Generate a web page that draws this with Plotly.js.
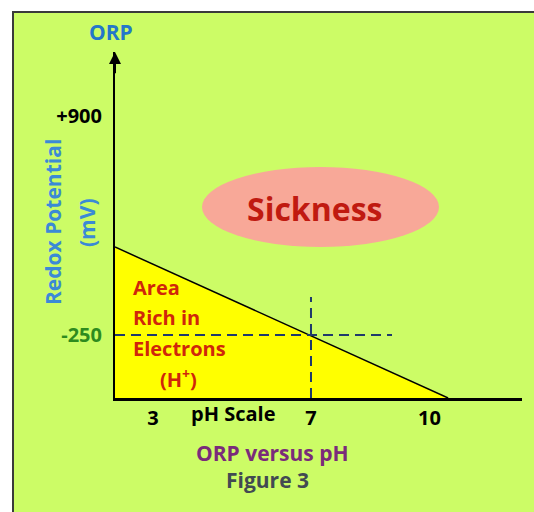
<!DOCTYPE html>
<html>
<head>
<meta charset="utf-8">
<script src="https://cdn.plot.ly/plotly-3.0.1.min.js"></script>
<style>html,body{margin:0;padding:0;background:#fff;}#chart{width:534px;height:512px;}</style>
</head>
<body>
<div id="chart"></div>
<script>
// ---- data (schematic values) ----
const phTicks = [3, 7, 10];
const phTickLabels = ['3', '7', '10'];
const orpTicks = [900, -250];
const orpTickLabels = ['+900', '<span style="color:#2e8b1e">-250</span>'];
const areaPH = [2.04, 2.04, 10.47];      // triangle: "area rich in electrons"
const areaORP = [212, -581, -581];
const slopePH = [2.04, 10.47];           // boundary line
const slopeORP = [212, -581];
const hDashPH = [2.04, 9.05];            // reference ORP -250 guide
const hDashORP = [-250, -250];
const vDashPH = [7, 7];                  // neutral pH 7 guide
const vDashORP = [-581, -50];
const xRange = [2.04, 12.34];
const yRange = [-581, 1236];

// ---- layout helpers ----
const ML = 115, MR = 12, MT = 52, MB = 114, W = 534, H = 512;
const PW = W - ML - MR, PH = H - MT - MB;
const px = x => (x - ML) / PW;
const py = y => (H - MB - y) / PH;
const FONT = '"Open Sans", Lato, sans-serif';

const traces = [
  {x: areaPH, y: areaORP, mode: 'lines', fill: 'toself', fillcolor: '#ffff00',
   line: {width: 0, color: 'rgba(0,0,0,0)'}, hoverinfo: 'skip', showlegend: false},
  {x: slopePH, y: slopeORP, mode: 'lines', line: {color: '#000', width: 1.5}, showlegend: false},
  {x: hDashPH, y: hDashORP, mode: 'lines', line: {color: '#1f3a6b', width: 2, dash: '10px,6px'}, showlegend: false},
  {x: vDashPH, y: vDashORP, mode: 'lines', line: {color: '#1f3a6b', width: 2, dash: '10px,6px'}, showlegend: false}
];

function txt(text, x, y, size, color, extra) {
  return Object.assign({text: text, xref: 'paper', yref: 'paper', x: px(x), y: py(y),
    xanchor: 'center', yanchor: 'middle', showarrow: false,
    font: {family: FONT, size: size, color: color, weight: 'bold'}}, extra || {});
}

const annotations = [
  // y axis arrow head
  {x: xRange[0], y: yRange[1], xref: 'x', yref: 'y', ax: xRange[0], ay: yRange[1] - 120,
   axref: 'x', ayref: 'y', text: '', showarrow: true, arrowhead: 2, arrowsize: 1.2,
   arrowwidth: 2, arrowcolor: '#000', standoff: 0},
  txt('ORP', 111, 32, 21, '#2477c9'),
  txt('Redox Potential', 53, 222, 21, '#3b8ad6', {textangle: -90}),
  txt('(mV)', 87, 223, 21, '#3b8ad6', {textangle: -90}),
  txt('Sickness', 314, 208, 32, '#c01a10'),
  txt('Area', 131, 287, 20, '#d0260a', {xanchor: 'left'}),
  txt('Rich in', 131, 317, 20, '#d0260a', {xanchor: 'left'}),
  txt('Electrons', 131, 348, 20, '#d0260a', {xanchor: 'left'}),
  txt('(H<sup>+</sup>)', 178, 378, 20, '#d0260a'),
  txt('pH Scale', 233, 413, 20, '#000'),
  txt('ORP versus pH', 272, 453, 21, '#7a2b7a'),
  txt('Figure 3', 267, 480, 21, '#424a52')
];

const shapes = [
  {type: 'rect', xref: 'paper', yref: 'paper', x0: px(13), x1: px(560), y0: py(540), y1: py(12),
   fillcolor: '#ccfc66', line: {color: '#3a3a3a', width: 2}, layer: 'below'},
  {type: 'circle', xref: 'paper', yref: 'paper', x0: px(202), x1: px(439), y0: py(247), y1: py(167),
   fillcolor: '#f8a898', line: {width: 0}, layer: 'below'}
];

const layout = {
  width: W, height: H,
  margin: {l: ML, r: MR, t: MT, b: MB, pad: 0},
  paper_bgcolor: '#ffffff', plot_bgcolor: 'rgba(0,0,0,0)',
  showlegend: false,
  xaxis: {range: xRange, showgrid: false, zeroline: false, showline: true, linecolor: '#000',
    linewidth: 3, tickvals: phTicks, ticktext: phTickLabels, ticks: '',
    tickfont: {family: FONT, size: 20, color: '#000', weight: 'bold'}, fixedrange: true},
  yaxis: {range: yRange, showgrid: false, zeroline: false, showline: true, linecolor: '#000',
    linewidth: 2, tickvals: orpTicks, ticktext: orpTickLabels, ticks: '', ticklabelstandoff: 7,
    tickfont: {family: FONT, size: 20, color: '#000', weight: 'bold'}, fixedrange: true},
  annotations: annotations,
  shapes: shapes
};

Plotly.newPlot('chart', traces, layout, {staticPlot: true, displayModeBar: false});
</script>
</body>
</html>
